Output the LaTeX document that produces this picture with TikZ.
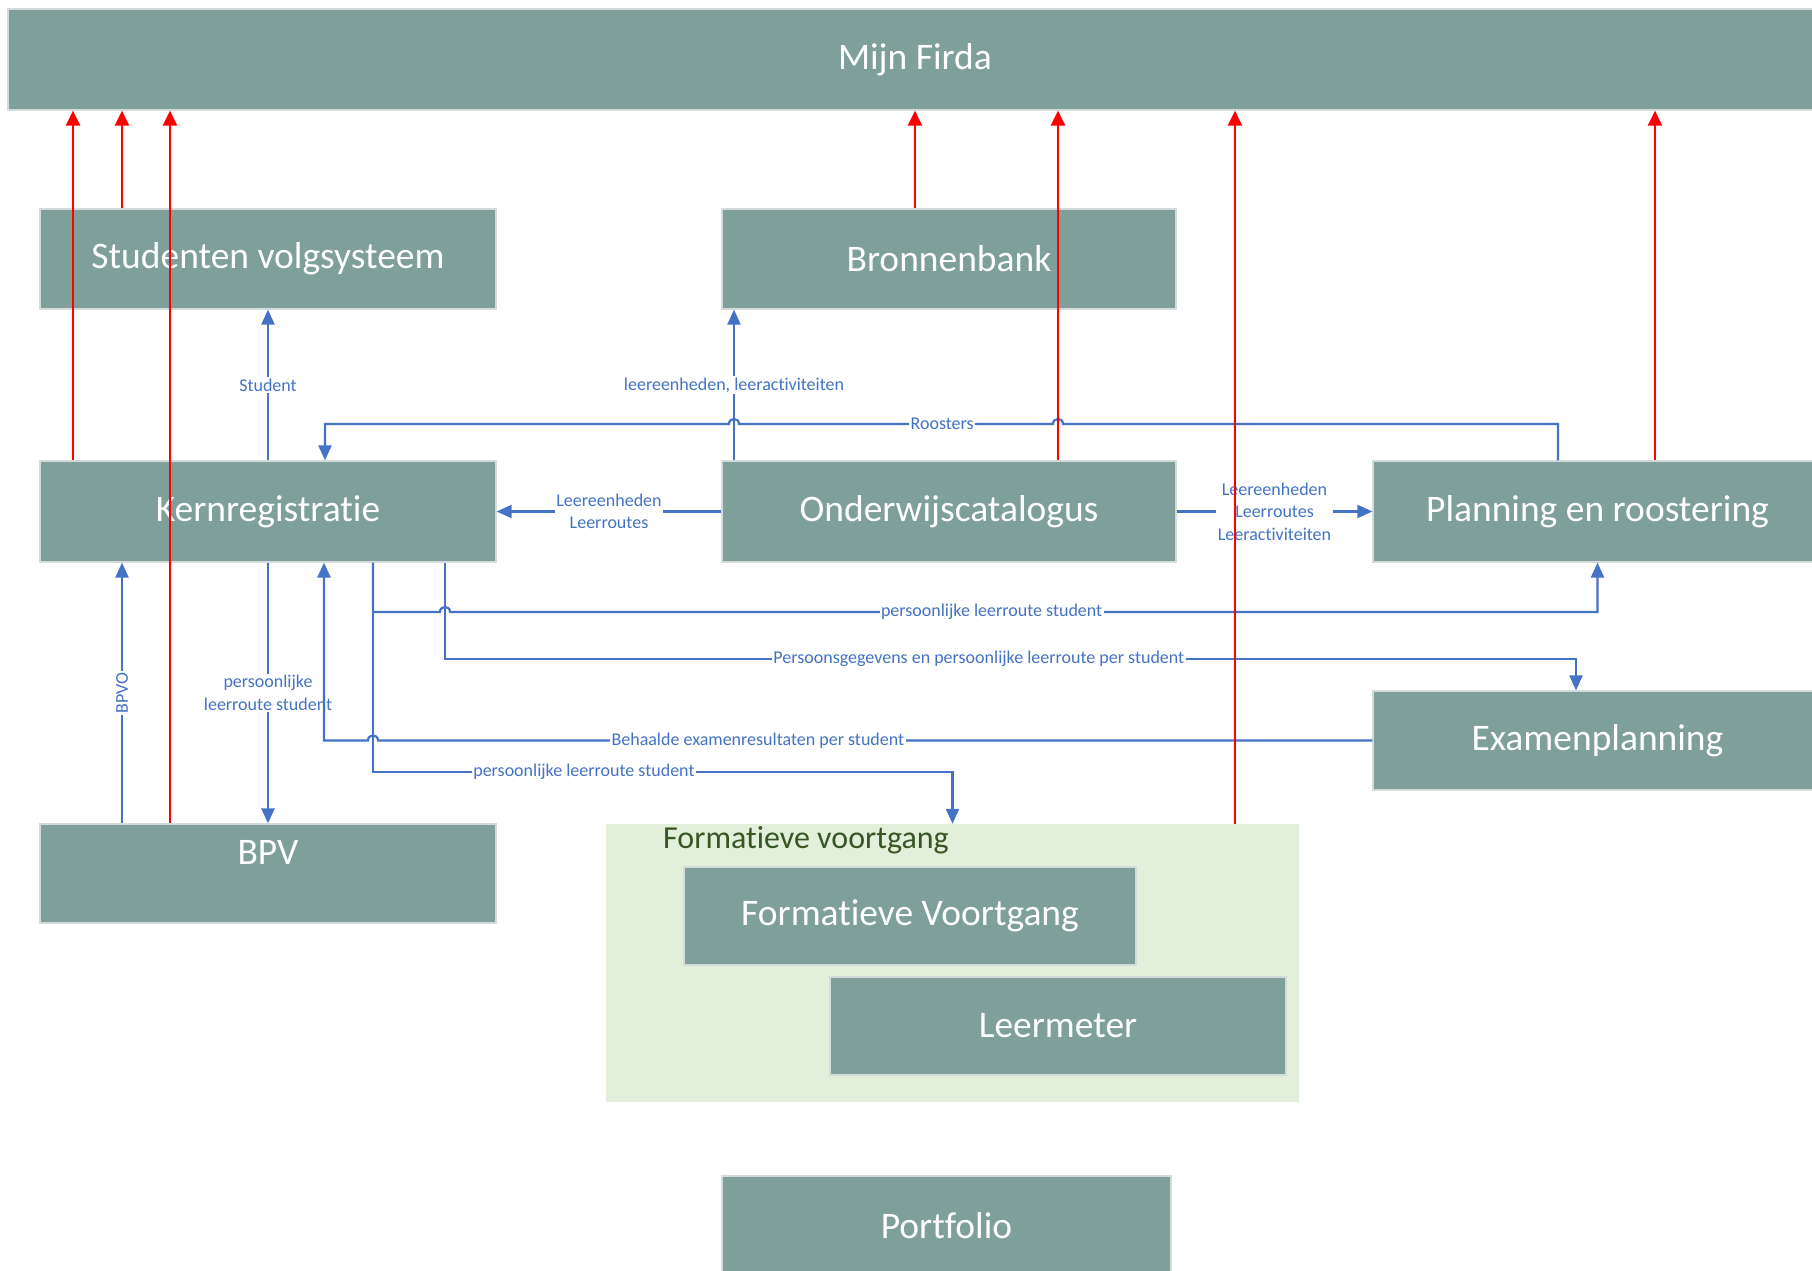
\documentclass[tikz,border=0pt]{standalone}
\usepackage{fontspec}
\setmainfont{Carlito}[Ligatures={NoCommon}]
\usetikzlibrary{arrows.meta}
\definecolor{boxfill}{HTML}{7F9F9A}
\definecolor{boxline}{HTML}{D3DCDA}
\definecolor{grpfill}{HTML}{E2EFDA}
\definecolor{grptext}{HTML}{375623}
\definecolor{flow}{HTML}{4472C4}
\definecolor{redflow}{HTML}{FF0000}
\tikzset{
 sysbox/.style={rectangle, fill=boxfill, draw=boxline, line width=1.2pt, inner sep=0pt, text=white, font=\fontsize{37.5}{40}\selectfont},
 flowline/.style={draw=flow, line width=2.2pt},
 flowarrow/.style={flowline, -{Triangle[length=15pt,width=13pt]}},
 redarrow/.style={draw=redflow, line width=2.5pt, -{Triangle[length=15pt,width=14pt]}},
 lab/.style={fill=white, text=flow, inner sep=1.5pt, font=\fontsize{18}{22.5}\selectfont, align=center},
}
\begin{document}
\begin{tikzpicture}[x=1pt,y=-1pt]
\useasboundingbox (0,0) rectangle (1812,1271);
\clip (0,0) rectangle (1812,1271);
% boxes
\node[sysbox, minimum width=1814pt, minimum height=101pt] (firda) at (915,59.5) {Mijn Firda};
\node[sysbox, minimum width=456pt, minimum height=100pt] (svs) at (268,259) {Studenten volgsysteem};
\node[sysbox, minimum width=454pt, minimum height=100pt] (bron) at (949,259) {Bronnenbank};
\node[sysbox, minimum width=456pt, minimum height=101pt] (kern) at (268,511.5) {Kernregistratie};
\node[sysbox, minimum width=454pt, minimum height=101pt] (ondw) at (949,511.5) {Onderwijscatalogus};
\node[sysbox, minimum width=449pt, minimum height=101pt] (plan) at (1597.5,511.5) {Planning en roostering};
\node[sysbox, minimum width=449pt, minimum height=99pt] (exam) at (1597.5,740.5) {Examenplanning};
\node[sysbox, minimum width=456pt, text height=40pt, text depth=59pt] (bpv) at (268,873.5) {BPV};
\node[fill=grpfill, minimum width=693pt, minimum height=278pt, inner sep=0pt] (group) at (952.5,963) {};
\node[text=grptext, font=\fontsize{32}{34}\selectfont, anchor=west, inner sep=0pt] (grptitle) at (663,840) {Formatieve voortgang};
\node[sysbox, minimum width=452pt, minimum height=98pt] (fv) at (910,916) {Formatieve Voortgang};
\node[sysbox, minimum width=456pt, minimum height=98pt] (leer) at (1058,1026) {Leermeter};
\node[sysbox, minimum width=449pt, minimum height=100pt] (port) at (946.5,1226) {Portfolio};
% blue connectors
\draw[flowarrow] (kern.north) -- node[lab]{Student} (svs.south);
\draw[flowarrow] ([xshift=-215pt]ondw.north) -- node[lab]{leereenheden, leeractiviteiten} ([xshift=-215pt]bron.south);
\draw[flowarrow] ([xshift=-39.5pt]plan.north) -- (1558,424) -- (1063,424) .. controls (1063,417.3) and (1053,417.3) .. (1053,424) -- node[lab,pos=0.353]{Roosters} (739,424) .. controls (739,417.3) and (729,417.3) .. (729,424) -- (325,424) -- ([xshift=57pt]kern.north);
\draw[flowarrow] (ondw.west) -- node[lab]{Leereenheden\\Leerroutes} (kern.east);
\draw[flowarrow] (ondw.east) -- node[lab]{Leereenheden\\Leerroutes\\Leeractiviteiten} (plan.west);
\draw[flowarrow] (kern.south) -- node[lab]{persoonlijke\\leerroute student} (bpv.north);
\draw[flowarrow] ([xshift=-146pt]bpv.north) -- node[lab,rotate=90]{BPVO} ([xshift=-146pt]kern.south);
\draw[flowarrow] ([xshift=105pt]kern.south) -- (373,612) -- (440,612) .. controls (440,605.3) and (450,605.3) .. (450,612) -- node[lab,pos=0.472]{persoonlijke leerroute student} (1597.5,612) -- (plan.south);
\draw[flowarrow] ([xshift=105pt]kern.south) -- (373,772) -- node[lab,pos=0.364]{persoonlijke leerroute student} (952.5,772) -- (group.north);
\draw[flowarrow] ([xshift=177pt]kern.south) -- (445,659) -- node[lab,pos=0.472]{Persoonsgegevens en persoonlijke leerroute per student} (1576,659) -- ([xshift=-21.5pt]exam.north);
\draw[flowarrow] (exam.west) -- node[lab,pos=0.618]{Behaalde examenresultaten per student} (378,740.5) .. controls (378,733.8) and (368,733.8) .. (368,740.5) -- (324,740.5) -- ([xshift=56pt]kern.south);
% red connectors
\draw[redarrow] ([xshift=-195pt]kern.north) coordinate (r1) -- (r1 |- firda.south);
\draw[redarrow] ([xshift=-146pt]svs.north) coordinate (r2) -- (r2 |- firda.south);
\draw[redarrow] ([xshift=-98pt]bpv.north) coordinate (r3) -- (r3 |- firda.south);
\draw[redarrow] ([xshift=-34pt]bron.north) coordinate (r4) -- (r4 |- firda.south);
\draw[redarrow] ([xshift=109pt]ondw.north) coordinate (r5) -- (r5 |- firda.south);
\draw[redarrow] ([xshift=282.5pt]group.north) coordinate (r6) -- (r6 |- firda.south);
\draw[redarrow] ([xshift=57.5pt]plan.north) coordinate (r7) -- (r7 |- firda.south);
\end{tikzpicture}
\end{document}
